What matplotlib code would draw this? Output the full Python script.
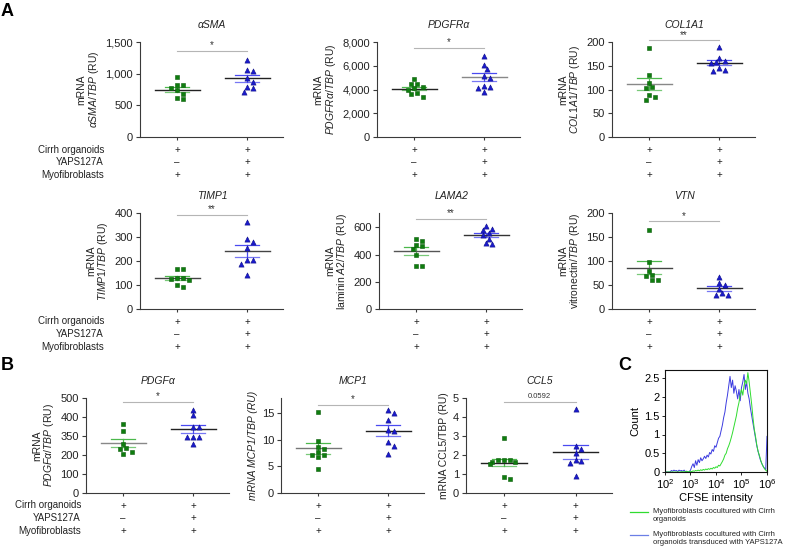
import numpy as np
import matplotlib
matplotlib.use('Agg')
import matplotlib.pyplot as plt
from matplotlib.lines import Line2D

plt.rcParams['font.family'] = ['Liberation Sans', 'DejaVu Sans']
plt.rcParams['mathtext.fontset'] = 'custom'
plt.rcParams['mathtext.rm'] = 'Liberation Sans'
plt.rcParams['mathtext.it'] = 'Liberation Sans:italic'
plt.rcParams['mathtext.bf'] = 'Liberation Sans:bold'

# ---------------- data ----------------
condition_names = ['Cirrh organoids', 'YAPS127A', 'Myofibroblasts']
cond_ctrl = ['+', '–', '+']
cond_yap = ['+', '+', '+']

asma_ctrl = [950, 820, 820, 770, 740, 680, 620, 600]
asma_yap = [1217, 1059, 1049, 928, 876, 787, 771, 718]
pdgfra_ctrl = [4850, 4500, 4450, 4200, 4100, 3950, 3700, 3600, 3400]
pdgfra_yap = [6850, 6100, 5750, 5100, 5000, 4300, 4250, 4150, 3800]
col1a1_ctrl = [188, 130, 114, 105, 104, 88, 85, 78]
col1a1_yap = [190, 166, 161, 157, 155, 145, 141, 139]
timp1_ctrl = [168, 165, 130, 128, 126, 122, 98, 92]
timp1_yap = [361, 293, 278, 254, 203, 203, 189, 143]
lama2_ctrl = [515, 500, 470, 460, 440, 393, 317, 317]
lama2_yap = [610, 585, 580, 555, 540, 515, 482, 478]
vtn_ctrl = [165, 97, 80, 71, 68, 61, 60]
vtn_yap = [67, 54, 49, 42, 33, 30, 30]
pdgfa_ctrl = [365, 327, 257, 235, 233, 217, 203]
pdgfa_yap = [439, 409, 350, 347, 297, 295, 293, 257]
mcp1_ctrl = [15.1, 9.7, 8.7, 8.3, 7.7, 7.2, 7.2, 6.8, 4.5]
mcp1_yap = [15.5, 14.9, 13.6, 11.8, 11.6, 9.5, 8.9, 7.3]
ccl5_ctrl = [2.87, 1.74, 1.74, 1.72, 1.61, 1.61, 1.54, 0.85, 0.74]
ccl5_yap = [4.42, 2.50, 2.32, 2.13, 1.74, 1.69, 1.60, 0.90]

sig_labels = ['*', '*', '**', '**', '**', '*', '*', '*', '0.0592']

# CFSE histogram (log10 intensity bins 2.00 ... 6.00, step 0.05)
cfse_log_bins = [round(2.0 + 0.05 * i, 2) for i in range(81)]
cfse_yap = [0, 0, 0, 0, 0,
            0.04, 0.02, 0.05, 0.03, 0.04, 0.01, 0.05, 0.03, 0.04, 0.02, 0.05, 0.01, 0.02, 0.0, 0.01,
            0.05, 0.15, 0.22, 0.12, 0.30, 0.18, 0.33, 0.25, 0.38, 0.30, 0.35, 0.42, 0.36, 0.45, 0.40,
            0.52, 0.48, 0.60, 0.55, 0.70, 0.66, 0.78, 0.90, 0.95, 1.10, 1.25, 1.45, 1.60, 1.85, 2.05,
            2.30, 2.55, 2.25, 2.45, 2.10, 2.30, 2.15, 1.95, 2.20, 1.90, 2.25, 2.40, 2.60, 2.20, 2.40,
            2.10, 1.95, 1.70, 1.50, 1.30, 1.10, 0.90, 0.70, 0.55, 0.42, 0.30, 0.22, 0.15, 0.10, 0.06,
            0.95]
cfse_ctrl = [0, 0, 0, 0, 0, 0, 0, 0, 0, 0, 0, 0, 0, 0.01, 0, 0.01, 0, 0.02, 0, 0.01,
             0.02, 0.01, 0.03, 0.02, 0.04, 0.03, 0.05, 0.03, 0.06, 0.04, 0.07, 0.05, 0.08, 0.06, 0.09,
             0.07, 0.10, 0.08, 0.12, 0.10, 0.14, 0.12, 0.18, 0.16, 0.22, 0.28, 0.35, 0.45, 0.50, 0.62,
             0.70, 0.80, 0.92, 1.05, 1.20, 1.35, 1.50, 1.70, 1.85, 2.05, 2.20, 2.05, 2.30, 2.45, 2.35,
             2.65, 2.40, 2.10, 1.80, 1.45, 1.15, 0.95, 0.72, 0.55, 0.45, 0.32, 0.22, 0.15, 0.09, 0.05,
             0.02]
cfse_ticks = [1e2, 1e3, 1e4, 1e5, 1e6]
count_ticks = [0, 0.5, 1, 1.5, 2, 2.5]
count_ticklabels = ['0', '0.5', '1', '1.5', '2', '2.5']

# ---------------- figure ----------------
W, H = 787, 553
fig = plt.figure(figsize=(W / 100, H / 100), dpi=100)


def ax_px(left, top, width, height):
    return fig.add_axes([left / W, 1 - (top + height) / H, width / W, height / H])


GREEN = '#0f7d0f'
GREEN_EDGE = '#0a5c0a'
BLUE = '#1a1acc'
GREEN_SEM = '#4cb84c'
BLUE_SEM = '#4a4af0'
PT = 72.0 / 100.0  # points per pixel

panels = [
    dict(title='αSMA', ylabel='mRNA\n' + r'$\mathit{\alpha SMA/TBP}$ (RU)', d=(asma_ctrl, asma_yap),
         ylim=(0, 1500), yticks=[0, 500, 1000, 1500], ytl=['0', '500', '1,000', '1,500'],
         pos=(140, 42, 143, 95), sig=1358, mc=('#222222', '#222222')),
    dict(title='PDGFRα', ylabel='mRNA\n' + r'$\mathit{PDGFR\alpha/TBP}$ (RU)', d=(pdgfra_ctrl, pdgfra_yap),
         ylim=(0, 8000), yticks=[0, 2000, 4000, 6000, 8000], ytl=['0', '2,000', '4,000', '6,000', '8,000'],
         pos=(377, 42, 143, 95), sig=7500, mc=('#222222', '#888888')),
    dict(title='COL1A1', ylabel='mRNA\n' + r'$\mathit{COL1A1/TBP}$ (RU)', d=(col1a1_ctrl, col1a1_yap),
         ylim=(0, 200), yticks=[0, 50, 100, 150, 200], ytl=None,
         pos=(612, 42, 143, 95), sig=204, mc=('#888888', '#222222')),
    dict(title='TIMP1', ylabel='mRNA\n' + r'$\mathit{TIMP1/TBP}$ (RU)', d=(timp1_ctrl, timp1_yap),
         ylim=(0, 400), yticks=[0, 100, 200, 300, 400], ytl=None,
         pos=(140, 213, 143, 96), sig=392, mc=('#444444', '#444444')),
    dict(title='LAMA2', ylabel='mRNA\n' + r'laminin $\mathit{A2/TBP}$ (RU)', d=(lama2_ctrl, lama2_yap),
         ylim=(0, 705), yticks=[0, 200, 400, 600], ytl=None,
         pos=(379, 213, 143, 96), sig=661, mc=('#555555', '#333333')),
    dict(title='VTN', ylabel='mRNA\n' + r'vitronectin/$\mathit{TBP}$ (RU)', d=(vtn_ctrl, vtn_yap),
         ylim=(0, 200), yticks=[0, 50, 100, 150, 200], ytl=None,
         pos=(612, 213, 143, 96), sig=183, mc=('#444444', '#333333')),
    dict(title='PDGFα', ylabel='mRNA\n' + r'$\mathit{PDGF\alpha/TBP}$ (RU)', d=(pdgfa_ctrl, pdgfa_yap),
         ylim=(0, 500), yticks=[0, 100, 200, 300, 400, 500], ytl=['0', '100', '200', '350', '400', '500'],
         pos=(86, 398, 143, 95), sig=479, mc=('#888888', '#222222')),
    dict(title='MCP1', ylabel='mRNA MCP1/TBP (RU)', ylstyle='italic', d=(mcp1_ctrl, mcp1_yap),
         ylim=(0, 17.8), yticks=[0, 5, 10, 15], ytl=None,
         pos=(281, 398, 143, 95), sig=16.5, mc=('#777777', '#222222')),
    dict(title='CCL5', ylabel='mRNA CCL5/TBP (RU)', d=(ccl5_ctrl, ccl5_yap),
         ylim=(0, 5), yticks=[0, 1, 2, 3, 4, 5], ytl=None,
         pos=(466, 398, 146, 95), sig=4.79, mc=('#222222', '#222222')),
]


def swarm_x(ax, values, center, diam_px=4.8):
    ypx = [ax.transData.transform((0, v))[1] for v in values]
    ppu = ax.transData.transform((1, 0))[0] - ax.transData.transform((0, 0))[0]
    order = np.argsort(values)[::-1]
    placed = []
    offs = np.zeros(len(values))
    step = diam_px * 0.6
    for i in order:
        for k in [0, 1, -1, 2, -2, 3, -3, 4, -4, 5, -5]:
            ox = k * step
            ok = all((ox - px) ** 2 + (ypx[i] - py) ** 2 >= diam_px ** 2 for px, py in placed)
            if ok:
                break
        placed.append((ox, ypx[i]))
        offs[i] = ox
    return center + offs / ppu


spine_col = '#3a3a3a'
for p, slab in zip(panels, sig_labels):
    l, t, w, h = p['pos']
    ax = ax_px(l, t, w, h)
    ax.set_xlim(-0.53, 1.51)
    ax.set_ylim(*p['ylim'])
    ax.set_yticks(p['yticks'])
    if p['ytl'] is not None:
        ax.set_yticklabels(p['ytl'])
    ax.set_xticks([0, 1])
    ax.set_xticklabels([])
    for s in ['top', 'right']:
        ax.spines[s].set_visible(False)
    for s in ['left', 'bottom']:
        ax.spines[s].set_color(spine_col)
        ax.spines[s].set_linewidth(0.8)
    ax.tick_params(axis='y', length=3, width=0.8, color=spine_col, labelsize=8, pad=2, labelcolor='#222222')
    ax.tick_params(axis='x', length=2, width=0.8, color=spine_col)
    ax.set_ylabel(p['ylabel'], fontsize=7.5, labelpad=3, linespacing=1.05,
                  fontstyle=p.get('ylstyle', 'normal'), color='#222222')
    ax.patch.set_alpha(0)

    ctrl, yap = p['d']
    for gi, (vals, col, ecol, semc, mk, sz) in enumerate([
            (ctrl, GREEN, GREEN_EDGE, GREEN_SEM, 's', 10),
            (yap, BLUE, '#10108a', BLUE_SEM, '^', 14)]):
        vals = np.asarray(vals, dtype=float)
        m = vals.mean()
        se = vals.std(ddof=1) / np.sqrt(len(vals))
        ax.plot([gi, gi], [m - se, m + se], color=semc, lw=0.9, zorder=2)
        ax.plot([gi - 0.17, gi + 0.17], [m + se, m + se], color=semc, lw=0.9, zorder=2)
        ax.plot([gi - 0.17, gi + 0.17], [m - se, m - se], color=semc, lw=0.9, zorder=2, alpha=0.75)
        ax.plot([gi - 0.32, gi + 0.32], [m, m], color=p['mc'][gi], lw=1.0, zorder=3)
        xs = swarm_x(ax, vals, gi)
        ax.scatter(xs, vals, s=sz, marker=mk, color=col, edgecolors=ecol, linewidths=0.4, zorder=5)

    # significance bar
    ax.plot([0, 1], [p['sig'], p['sig']], color='#b5b5b5', lw=0.8, clip_on=False, zorder=1)
    fs = 5.5 if slab[0].isdigit() else 7
    ax.annotate(slab, xy=(0.5, p['sig']), xycoords='data', xytext=(0, 1.5 if fs < 7 else 0.3),
                textcoords='offset points', ha='center', va='bottom', fontsize=fs, color='#333333',
                annotation_clip=False)
    # title
    ax.annotate(p['title'], xy=(0.5, 1), xycoords=('data', 'axes fraction'), xytext=(0, 17 * PT),
                textcoords='offset points', ha='center', va='center', fontsize=7.5,
                fontstyle='italic', color='#222222', annotation_clip=False)
    # condition signs
    for ri, off in enumerate([12.5, 25, 38]):
        for gi, cond in enumerate([cond_ctrl, cond_yap]):
            ax.annotate(cond[ri], xy=(gi, 0), xycoords=('data', 'axes fraction'),
                        xytext=(0, -off * PT), textcoords='offset points', ha='center', va='center',
                        fontsize=7, color='#222222', annotation_clip=False)

# condition row names
for (xr, ybot) in [(104, 137), (104, 309), (81, 493)]:
    for name, off in zip(condition_names, [12.5, 25, 38]):
        fig.text(xr / W, 1 - (ybot + off) / H, name, ha='right', va='center', fontsize=7,
                 color='#222222')

# panel letters
for letter, (x, y) in zip(['A', 'B', 'C'], [(1, 12), (1, 365), (618, 366)]):
    fig.text(x / W, 1 - y / H, letter, ha='left', va='center', fontsize=13, fontweight='bold')

# ---------------- panel C ----------------
axc = ax_px(665, 370, 102, 102)
axc.set_xscale('log')
axc.set_xlim(1e2, 1e6)
axc.set_ylim(0, 2.72)
xb = [10 ** v for v in cfse_log_bins]
line_b, = axc.plot(xb, cfse_yap, color='#3c3ce0', lw=0.7)
line_g, = axc.plot(xb, cfse_ctrl, color='#2fdc2f', lw=0.7)
axc.set_xticks(cfse_ticks)
axc.minorticks_off()
axc.set_yticks(count_ticks)
axc.set_yticklabels(count_ticklabels)
axc.tick_params(axis='both', labelsize=8, length=2, width=0.6, pad=2)
for s in axc.spines.values():
    s.set_linewidth(0.8)
    s.set_color('#111111')
axc.set_xlabel('CFSE intensity', fontsize=8, labelpad=1)
axc.set_ylabel('Count', fontsize=8, labelpad=3)

# legend for C
for (ytext, yline, col, txt) in [
        (508, 512, '#2fdc2f', 'Myofibroblasts cocultured with Cirrh\norganoids'),
        (531, 535, '#6b7fe6', 'Myofibroblasts cocultured with Cirrh\norganoids transduced with YAPS127A')]:
    fig.add_artist(Line2D([630 / W, 648 / W], [1 - yline / H] * 2, color=col, lw=0.9,
                          transform=fig.transFigure))
    fig.text(653 / W, 1 - ytext / H, txt, ha='left', va='top', fontsize=5.5, linespacing=1.25,
             color='#222222')

fig.savefig('out.png', dpi=100)
